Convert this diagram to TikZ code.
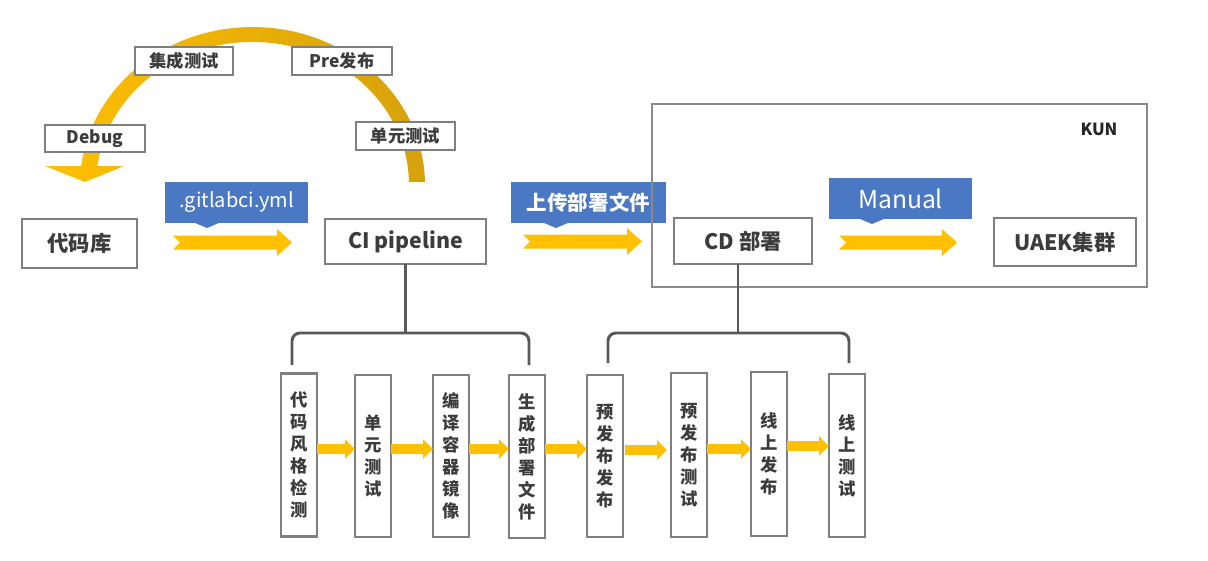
\documentclass[tikz,border=0pt]{standalone}
\usepackage{fontspec}
\setmainfont{Noto Sans CJK SC}
\usetikzlibrary{arrows.meta,calc}
\definecolor{txt}{HTML}{3C3C3C}
\definecolor{boxgray}{HTML}{7F7F7F}
\definecolor{linegray}{HTML}{595959}
\definecolor{kungray}{HTML}{8A8A8A}
\definecolor{ylw}{HTML}{FFC000}
\definecolor{gold}{HTML}{D6A10C}
\definecolor{cblue}{HTML}{4A78C2}
\newcommand{\pxu}{0.75pt}
\newcommand{\bigarrow}[3]{\fill[ylw] (#1,#3-7) -- (#2-15,#3-7) -- (#2-15,#3-13.5) -- (#2,#3) -- (#2-15,#3+13.5) -- (#2-15,#3+7) -- (#1,#3+7) -- (#1+7,#3) -- cycle;}
\newcommand{\pointer}[2]{\fill[cblue] ($(#1.south west)+(#2-13,-0.5)$) -- ++(13,5.5) -- ++(13,-5.5) -- cycle;}
\begin{document}
\begin{tikzpicture}[x=0.75pt,y=-0.75pt,
  box/.style={draw=boxgray,line width=1.9pt,fill=white,text=txt,inner sep=0pt,outer sep=0pt,font=\bfseries\fontsize{16}{19}\selectfont},
  tag/.style={draw=boxgray,line width=1.9pt,fill=white,text=txt,inner sep=0pt,outer sep=0pt,minimum height=28*\pxu,font=\bfseries\fontsize{13}{15}\selectfont},
  vbox/.style={draw=boxgray,line width=1.9pt,fill=white,text=txt,inner sep=0pt,outer sep=0pt,minimum width=36*\pxu,minimum height=163*\pxu,align=center,font=\bfseries\fontsize{13}{16.5}\selectfont},
  callout/.style={fill=cblue,text=white,inner sep=0pt,outer sep=0pt,minimum height=41*\pxu},
  sarrow/.style={draw=ylw,line width=7.5pt,-{Triangle[length=7.5pt,width=14.5pt]}},
  bracket/.style={draw=linegray,line width=2.2pt,rounded corners=6pt}]
\fill[white] (0,0) rectangle (1208,561);
\useasboundingbox (0,0) rectangle (1208,561);

% loop arrow
\shade[left color=ylw,right color=gold]
  (424.97,182) arc[start angle=-1.1,end angle=-173.1,x radius=172.5,y radius=158]
  -- (45,166) -- (85,182) -- (124,166) -- (97.4,166)
  arc[start angle=-172.4,end angle=-1.2,x radius=156.5,y radius=143] -- cycle;

% tags on loop
\node[tag,minimum width=98*\pxu] (jc) at (184,61) {集成测试};
\node[tag,minimum width=100*\pxu] (pre) at (342,61) {Pre发布};
\node[tag,minimum width=100*\pxu,minimum height=27*\pxu] (dbg) at (95,138.5) {Debug};
\node[tag,minimum width=99*\pxu] (ut) at (405.5,136) {单元测试};

% callouts
\node[callout,minimum width=143*\pxu,font=\fontsize{15}{17}\selectfont] (gl) at (236.5,202.5) {.gitlabci.yml};
\pointer{gl}{42}
\node[callout,minimum width=155*\pxu,font=\bfseries\fontsize{15.4}{17}\selectfont] (up) at (588.5,202.5) {上传部署文件};
\pointer{up}{45}
\node[callout,minimum width=143*\pxu,font=\fontsize{18.5}{20}\selectfont] (man) at (900.5,198.5) {Manual};
\pointer{man}{43}

% big arrows
\bigarrow{173}{292}{242.5}
\bigarrow{523}{642}{241.5}
\bigarrow{839}{957}{242.5}

% main boxes
\node[box,minimum width=115*\pxu,minimum height=49*\pxu] (repo) at (79.5,243.5) {代码库};
\node[box,minimum width=161*\pxu,minimum height=45*\pxu] (ci) at (405.5,241.5) {CI pipeline};
\node[box,minimum width=138*\pxu,minimum height=46*\pxu] (cd) at (743,241) {CD 部署};
\node[box,minimum width=142*\pxu,minimum height=48*\pxu] (uaek) at (1065,242) {UAEK集群};

% KUN frame
\draw[kungray,line width=1.9pt] (652,104) rectangle (1147,287);
\node[font=\bfseries\fontsize{12.5}{14}\selectfont,text=black!85] (kun) at (1099,129) {KUN};

% bottom boxes
\node[vbox] (b1) at (299,455) {代\\码\\风\\格\\检\\测};
\node[vbox,minimum height=162*\pxu] (b2) at (373,456) {单\\元\\测\\试};
\node[vbox,minimum height=162*\pxu] (b3) at (451,456) {编\\译\\容\\器\\镜\\像};
\node[vbox] (b4) at (527,456.5) {生\\成\\部\\署\\文\\件};
\node[vbox,minimum height=162*\pxu] (b5) at (605,456) {预\\发\\布\\发\\布};
\node[vbox,minimum height=164*\pxu] (b6) at (689,455) {预\\发\\布\\测\\试};
\node[vbox,minimum height=164*\pxu] (b7) at (769,454) {线\\上\\发\\布};
\node[vbox] (b8) at (847,455.5) {线\\上\\测\\试};

% brackets
\draw[bracket] (ci.south) -- (ci.south |- 0,333);
\draw[bracket] (292,365) -- (292,333) -- (529,333) -- (529,365);
\draw[bracket] ($(cd.south)+(-5,0)$) -- (738,333);
\draw[bracket] (608,363) -- (608,333) -- (849,333) -- (849,363);

% small arrows
\draw[sarrow] (b1.east |- 0,449) -- (b2.west |- 0,449);
\draw[sarrow] (b2.east |- 0,449) -- (b3.west |- 0,449);
\draw[sarrow] (b3.east |- 0,449) -- (b4.west |- 0,449);
\draw[sarrow] (b4.east |- 0,449) -- (b5.west |- 0,449);
\draw[sarrow] ($(b5.east |- 0,450)+(2,0)$) -- ($(b6.west |- 0,450)+(-4,0)$);
\draw[sarrow] (b6.east |- 0,449) -- (b7.west |- 0,449);
\draw[sarrow] (b7.east |- 0,446) -- (b8.west |- 0,446);
\end{tikzpicture}
\end{document}
